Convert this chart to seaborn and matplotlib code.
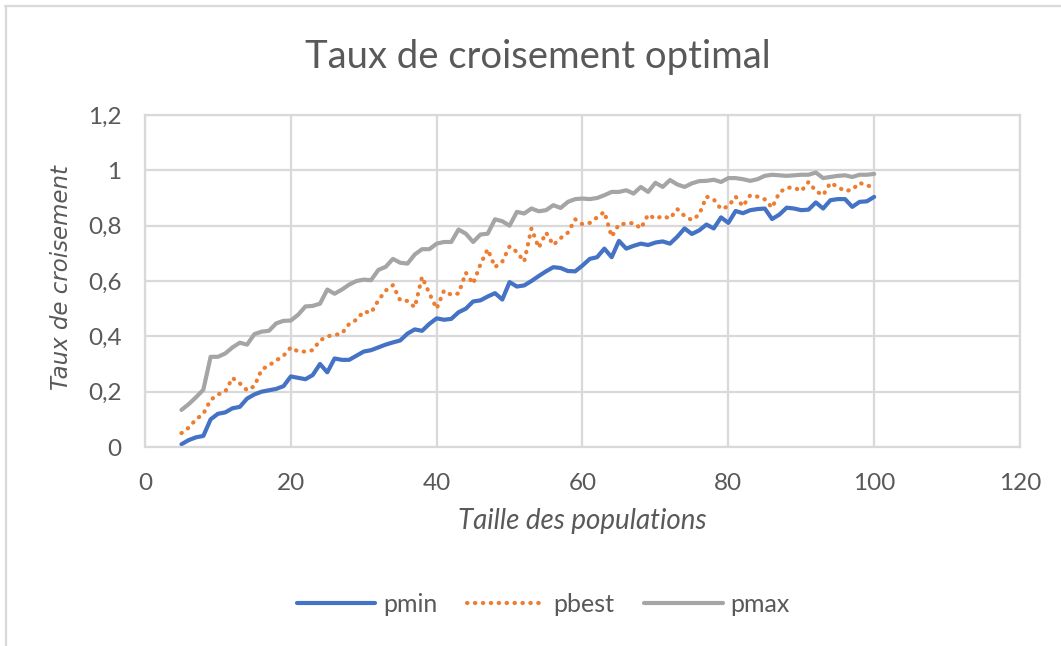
import pandas as pd
import matplotlib
matplotlib.use("Agg")
import matplotlib.pyplot as plt
from matplotlib.lines import Line2D
import seaborn as sns

# data (population size 5..100)
taille = list(range(5, 101))
pmin = [0.01, 0.025, 0.035, 0.04, 0.10, 0.12, 0.125, 0.14, 0.145, 0.175,
        0.19, 0.20, 0.205, 0.21, 0.22, 0.255, 0.25, 0.245, 0.26, 0.30,
        0.27, 0.32, 0.315, 0.315, 0.33, 0.345, 0.35, 0.36, 0.37, 0.378,
        0.385, 0.41, 0.425, 0.42, 0.445, 0.465, 0.46, 0.463, 0.487, 0.50,
        0.526, 0.53, 0.544, 0.556, 0.533, 0.596, 0.58, 0.584, 0.60, 0.618,
        0.635, 0.65, 0.647, 0.636, 0.635, 0.656, 0.68, 0.686, 0.717, 0.686,
        0.745, 0.717, 0.727, 0.735, 0.73, 0.739, 0.743, 0.735, 0.76, 0.79,
        0.77, 0.783, 0.804, 0.79, 0.83, 0.81, 0.853, 0.845, 0.856, 0.86,
        0.862, 0.824, 0.84, 0.865, 0.862, 0.856, 0.858, 0.884, 0.862, 0.892,
        0.896, 0.896, 0.868, 0.886, 0.888, 0.904]
pbest = [0.05, 0.07, 0.10, 0.12, 0.17, 0.19, 0.20, 0.25, 0.23, 0.205,
         0.22, 0.28, 0.295, 0.313, 0.33, 0.36, 0.345, 0.345, 0.35, 0.385,
         0.40, 0.405, 0.41, 0.445, 0.46, 0.49, 0.485, 0.53, 0.565, 0.585,
         0.53, 0.528, 0.505, 0.615, 0.555, 0.50, 0.565, 0.55, 0.555, 0.63,
         0.59, 0.66, 0.715, 0.65, 0.67, 0.725, 0.705, 0.67, 0.79, 0.72,
         0.775, 0.73, 0.755, 0.775, 0.823, 0.805, 0.81, 0.83, 0.85, 0.76,
         0.805, 0.807, 0.81, 0.79, 0.84, 0.825, 0.835, 0.826, 0.86, 0.835,
         0.82, 0.84, 0.905, 0.895, 0.86, 0.87, 0.905, 0.87, 0.91, 0.905,
         0.895, 0.865, 0.92, 0.937, 0.938, 0.925, 0.958, 0.925, 0.91, 0.955,
         0.94, 0.925, 0.93, 0.955, 0.945, 0.94]
pmax = [0.134, 0.155, 0.18, 0.207, 0.326, 0.326, 0.338, 0.36, 0.377, 0.37,
        0.408, 0.417, 0.42, 0.447, 0.456, 0.457, 0.478, 0.508, 0.51, 0.518,
        0.569, 0.554, 0.569, 0.587, 0.60, 0.605, 0.603, 0.64, 0.651, 0.68,
        0.666, 0.663, 0.696, 0.715, 0.715, 0.735, 0.741, 0.741, 0.786, 0.771,
        0.741, 0.768, 0.771, 0.823, 0.816, 0.80, 0.85, 0.844, 0.862, 0.852,
        0.856, 0.874, 0.864, 0.886, 0.896, 0.898, 0.896, 0.90, 0.91, 0.922,
        0.922, 0.928, 0.916, 0.94, 0.922, 0.955, 0.94, 0.965, 0.949, 0.94,
        0.953, 0.961, 0.962, 0.966, 0.958, 0.972, 0.972, 0.968, 0.962, 0.968,
        0.98, 0.984, 0.982, 0.98, 0.982, 0.984, 0.984, 0.992, 0.972, 0.976,
        0.98, 0.982, 0.976, 0.984, 0.984, 0.987]

series = ["pmin", "pbest", "pmax"]
couleurs = {"pmin": "#4472C4", "pbest": "#ED7D31", "pmax": "#A5A5A5"}
yticks = [0, 0.2, 0.4, 0.6, 0.8, 1.0, 1.2]
ytick_labels = ["0", "0,2", "0,4", "0,6", "0,8", "1", "1,2"]
xticks = [0, 20, 40, 60, 80, 100, 120]

df = pd.DataFrame({"taille": taille * 3,
                   "taux": pmin + pbest + pmax,
                   "serie": ["pmin"] * len(taille) + ["pbest"] * len(taille) + ["pmax"] * len(taille)})

sns.set_theme(style="whitegrid")
plt.rcParams["font.family"] = ["Lato", "DejaVu Sans"]
texte = "#595959"
grille = "#D9D9D9"

fig = plt.figure(figsize=(10.61, 6.46), dpi=100)
ax = fig.add_axes([145 / 1061, 1 - 447 / 646, 875 / 1061, 332 / 646])

sns.lineplot(data=df, x="taille", y="taux", hue="serie", hue_order=series,
             palette=couleurs, style="serie", style_order=series,
             dashes={"pmin": "", "pbest": (0.1, 1.8), "pmax": ""},
             linewidth=3, legend=False, ax=ax)
for ln in ax.lines:
    ln.set_dash_capstyle("round")
    ln.set_solid_capstyle("round")

ax.set_xlim(0, 120)
ax.set_ylim(0, 1.2)
ax.set_xticks(xticks)
ax.set_yticks(yticks)
ax.set_yticklabels(ytick_labels)
ax.tick_params(axis="both", length=0, labelsize=17.5, colors=texte)
ax.tick_params(axis="y", pad=17)
ax.tick_params(axis="x", pad=19)
ax.grid(True, color=grille, linewidth=1.6)
for s in ax.spines.values():
    s.set_color(grille)
    s.set_linewidth(1.6)

ax.set_xlabel("Taille des populations", fontsize=20, style="italic", color=texte)
ax.xaxis.set_label_coords(0.5, -0.185)
ax.set_ylabel("Taux de croisement", fontsize=16.5, style="italic", color=texte,
              family=["DejaVu Sans"])
ax.yaxis.set_label_coords(-0.082, 0.51)

fig.text(538 / 1061, 1 - 68 / 646, "Taux de croisement optimal", ha="center",
         va="baseline", fontsize=27.5, color=texte)

handles = [Line2D([], [], color=couleurs["pmin"], lw=3),
           Line2D([], [], color=couleurs["pbest"], lw=3, linestyle=(0, (0.1, 1.8)),
                  dash_capstyle="round"),
           Line2D([], [], color=couleurs["pmax"], lw=3)]
leg = fig.legend(handles, series, loc="center", bbox_to_anchor=(0.512, 1 - 604 / 646),
                 ncol=3, frameon=False, fontsize=18, handlelength=3.15,
                 handletextpad=0.3, columnspacing=1.2)
for t in leg.get_texts():
    t.set_color(texte)

# chart area border (top and left edges visible)
fig.add_artist(Line2D([5 / 1061, 1], [1 - 6 / 646, 1 - 6 / 646], color=grille, lw=1.6))
fig.add_artist(Line2D([6 / 1061, 6 / 1061], [1 - 6 / 646, 0], color=grille, lw=1.6))

fig.savefig("out.png", dpi=100)
